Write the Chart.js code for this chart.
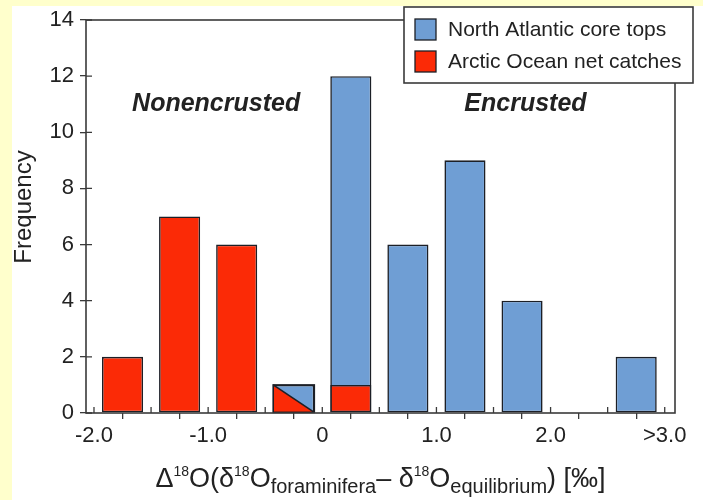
<!DOCTYPE html>
<html>
<head>
<meta charset="utf-8">
<script src="https://cdn.jsdelivr.net/npm/chart.js@4/dist/chart.umd.min.js"></script>
<style>
  html, body { margin: 0; padding: 0; background: #ffffcc; }
  #wrap { width: 703px; height: 500px; position: relative; }
</style>
</head>
<body>
<div id="wrap"><canvas id="c" width="703" height="500"></canvas></div>
<script>
// ---- data ----
const binCenters = [-1.75, -1.25, -0.75, -0.25, 0.25, 0.75, 1.25, 1.75, 2.25, 2.75];
const northAtlantic = [0, 0, 0, 1, 12, 6, 9, 4, 0, 2];
const arcticOcean  = [2, 7, 6, 1, 1, 0, 0, 0, 0, 0];
const splitBins = [-0.25];   // bins where the Arctic count is drawn as a shared (diagonal) bar
const seriesNames = ['North Atlantic core tops', 'Arctic Ocean net catches'];
const xTickValues = [-2, -1, 0, 1, 2, 3];
const xTickLabels = ['-2.0', '-1.0', '0', '1.0', '2.0', '>3.0'];
const regionLabels = ['Nonencrusted', 'Encrusted'];
const regionLabelX = [-0.93, 1.78];
const regionLabelY = [11.0, 11.0];

const BLUE = '#6f9ed4';
const RED = '#fb2a06';
const EDGE = '#1c1f26';
const AXIS = '#3a3a3a';
const FONT = "'Liberation Sans', Arial, sans-serif";

const toPoints = (vals) => binCenters.map((x, i) => ({x, y: vals[i]})).filter(p => p.y > 0);

const decor = {
  id: 'decor',
  beforeDraw(chart) {
    const ctx = chart.ctx;
    ctx.save();
    ctx.fillStyle = '#ffffcc';
    ctx.fillRect(0, 0, chart.width, chart.height);
    ctx.fillStyle = '#ffffff';
    ctx.fillRect(12, 6, chart.width - 12, chart.height - 6);
    ctx.restore();
  },
  afterDatasetsDraw(chart) {
    const ctx = chart.ctx;
    const xs = chart.scales.x, ys = chart.scales.y;
    const a = chart.chartArea;
    const meta = chart.getDatasetMeta(1);
    meta.data.forEach((el, i) => {
      const pt = chart.data.datasets[1].data[i];
      if (!splitBins.includes(pt.x)) return;
      const p = el.getProps(['x', 'y', 'base', 'width'], true);
      const l = p.x - p.width / 2, r = p.x + p.width / 2;
      ctx.save();
      ctx.beginPath();
      ctx.moveTo(l, p.y); ctx.lineTo(r, p.base); ctx.lineTo(l, p.base); ctx.closePath();
      ctx.fillStyle = RED; ctx.fill();
      ctx.lineWidth = 1.6; ctx.strokeStyle = EDGE;
      ctx.beginPath(); ctx.moveTo(l, p.y); ctx.lineTo(r, p.base); ctx.stroke();
      ctx.strokeRect(l, p.y, r - l, p.base - p.y);
      ctx.restore();
    });
    ctx.save();
    ctx.strokeStyle = AXIS; ctx.lineWidth = 1.6;
    ctx.strokeRect(a.left, a.top, a.right - a.left, a.bottom - a.top);
    ctx.lineWidth = 1.3;
    ctx.beginPath();
    xs.ticks.forEach(t => { const px = xs.getPixelForValue(t.value); ctx.moveTo(px, a.bottom); ctx.lineTo(px, a.bottom - 6); });
    ys.ticks.forEach(t => { const py = ys.getPixelForValue(t.value); ctx.moveTo(a.left, py); ctx.lineTo(a.left + 6, py); });
    ctx.stroke();
    ctx.restore();
  },
  afterDraw(chart) {
    const ctx = chart.ctx;
    const xs = chart.scales.x, ys = chart.scales.y;
    const a = chart.chartArea;
    ctx.save();
    ctx.fillStyle = '#222';
    ctx.font = `italic bold 25px ${FONT}`;
    ctx.textAlign = 'center'; ctx.textBaseline = 'middle';
    regionLabels.forEach((t, i) => ctx.fillText(t, xs.getPixelForValue(regionLabelX[i]), ys.getPixelForValue(regionLabelY[i])));
    // legend
    const lx = a.right - 271, ly = a.top - 13, lw = 289, lh = 76;
    ctx.fillStyle = '#fff'; ctx.fillRect(lx, ly, lw, lh);
    ctx.strokeStyle = AXIS; ctx.lineWidth = 1.6; ctx.strokeRect(lx, ly, lw, lh);
    const cols = [BLUE, RED];
    ctx.font = `21px ${FONT}`; ctx.textAlign = 'left';
    seriesNames.forEach((n, i) => {
      const cy = ly + 22 + i * 32;
      ctx.fillStyle = cols[i]; ctx.fillRect(lx + 11, cy - 10, 21, 21);
      ctx.strokeStyle = EDGE; ctx.lineWidth = 1.3; ctx.strokeRect(lx + 11, cy - 10, 21, 21);
      ctx.fillStyle = '#222'; ctx.fillText(n, lx + 44, cy + 1);
    });
    // y title
    ctx.save();
    ctx.translate(24, a.top + 187);
    ctx.rotate(-Math.PI / 2);
    ctx.font = `24px ${FONT}`; ctx.textAlign = 'center'; ctx.textBaseline = 'middle';
    ctx.fillStyle = '#222';
    ctx.fillText('Frequency', 0, 0);
    ctx.restore();
    // x title with super/subscripts
    const segs = [
      ['Δ', 'n'], ['18', 'sup'], ['O(δ', 'n'], ['18', 'sup'], ['O', 'n'], ['foraminifera', 'sub'],
      ['– δ', 'n'], ['18', 'sup'], ['O', 'n'], ['equilibrium', 'sub'], [') [‰]', 'n']
    ];
    const fonts = { n: `27px ${FONT}`, sup: `14px ${FONT}`, sub: `20px ${FONT}` };
    const dy = { n: 0, sup: -11, sub: 6 };
    let total = 0;
    segs.forEach(([t, k]) => { ctx.font = fonts[k]; total += ctx.measureText(t).width; });
    let x = (a.left + a.right) / 2 - total / 2;
    const base = 487;
    ctx.textAlign = 'left'; ctx.textBaseline = 'alphabetic'; ctx.fillStyle = '#222';
    segs.forEach(([t, k]) => { ctx.font = fonts[k]; ctx.fillText(t, x, base + dy[k]); x += ctx.measureText(t).width; });
    ctx.restore();
  }
};

new Chart(document.getElementById('c'), {
  type: 'bar',
  data: {
    datasets: [
      { label: seriesNames[0], data: toPoints(northAtlantic), backgroundColor: BLUE, borderColor: EDGE,
        borderWidth: 1.6, borderSkipped: false, order: 2 },
      { label: seriesNames[1], data: toPoints(arcticOcean),
        backgroundColor: (c) => (c.raw && splitBins.includes(c.raw.x)) ? 'rgba(0,0,0,0)' : RED,
        borderColor: (c) => (c.raw && splitBins.includes(c.raw.x)) ? 'rgba(0,0,0,0)' : EDGE,
        borderWidth: 1.6, borderSkipped: false, order: 1 }
    ]
  },
  options: {
    responsive: false,
    animation: false,
    grouped: false,
    categoryPercentage: 1,
    barPercentage: 0.72,
    layout: { padding: { left: 12, right: 28, top: 20, bottom: 47 } },
    plugins: { legend: { display: false }, tooltip: { enabled: false } },
    scales: {
      x: {
        type: 'linear', min: -2.07, max: 3.09, offset: false,
        grid: { drawOnChartArea: false, drawTicks: true, tickLength: 6, color: AXIS, lineWidth: 1.3 },
        border: { display: false },
        ticks: {
          stepSize: 0.5, includeBounds: false, autoSkip: false, maxRotation: 0, padding: 4,
          maxTicksLimit: 30,
          color: '#222', font: { family: FONT, size: 22 },
          callback: (v) => { const i = xTickValues.findIndex(t => Math.abs(t - v) < 1e-6); return i >= 0 ? xTickLabels[i] : ''; }
        },
        afterFit: (s) => { s.height = 40; }
      },
      y: {
        min: 0, max: 14,
        grid: { drawOnChartArea: false, drawTicks: true, tickLength: 6, color: AXIS, lineWidth: 1.3 },
        border: { display: false },
        ticks: { stepSize: 2, padding: 6, color: '#222', font: { family: FONT, size: 22 } },
        afterFit: (s) => { s.width = 74; }
      }
    }
  },
  plugins: [decor]
});
</script>
</body>
</html>
